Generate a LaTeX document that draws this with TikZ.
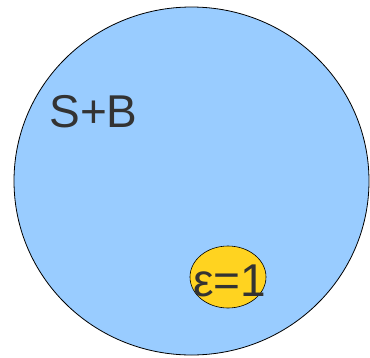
\documentclass[tikz,border=0pt]{standalone}
\usepackage{fontspec}
\setmainfont{Liberation Sans}
\usetikzlibrary{shapes.geometric}
\definecolor{sbblue}{RGB}{153,204,255}
\definecolor{sbyellow}{RGB}{255,211,32}
\definecolor{sbtext}{RGB}{51,51,51}
\tikzset{
  sbset/.style={draw=black, fill=sbblue, ellipse, inner sep=0pt, line width=.8pt},
  sbsig/.style={draw=black, fill=sbyellow, ellipse, inner sep=0pt, line width=.6pt},
  sblabel/.style={text=sbtext, inner sep=0pt, font=\fontsize{46}{52}\selectfont}
}
\begin{document}
\begin{tikzpicture}[x=1pt, y=1pt]
  \useasboundingbox (0,0) rectangle (370,-357);
  \node[sbset, minimum width=355pt, minimum height=348pt] (total) at (191.5,-181) {};
  \node[sbsig, minimum width=76pt, minimum height=62pt] (signal) at (228,-277) {};
  \node[sblabel, anchor=base] (sb) at (93.5,-127) {S+B};
  \node[sblabel, anchor=base] (eps) at (229.5,-296) {ε=1};
\end{tikzpicture}
\end{document}
